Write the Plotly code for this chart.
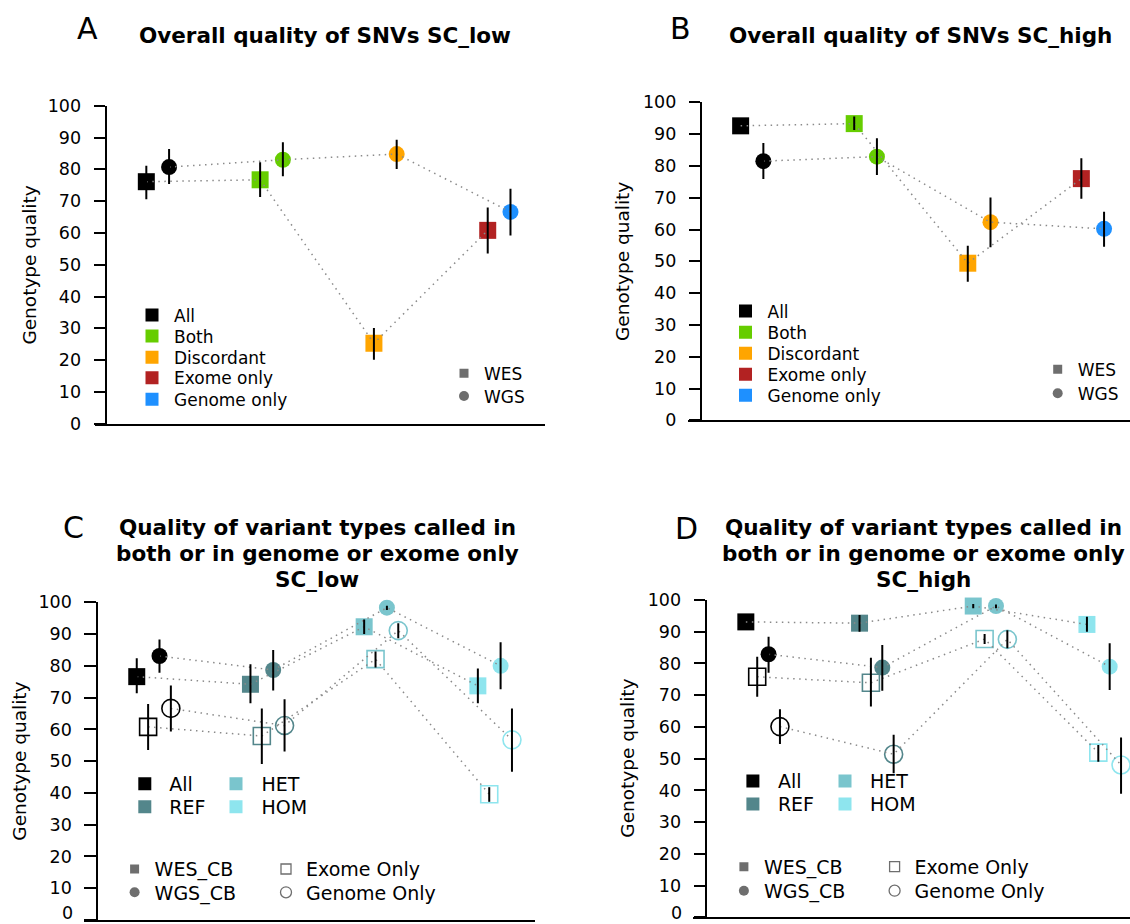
import plotly.graph_objects as go

W, H = 1130, 924
FONT = "DejaVu Sans, Liberation Sans, Arial, sans-serif"

# ---------------- Data: panels A and B ----------------
ab_categories = ["All", "Both", "Discordant", "Exome only", "Genome only"]
ab_colors = ["#000000", "#66CD00", "#FFA500", "#B22222", "#1E90FF"]
wes_cat_index = [0, 1, 2, 3]   # All, Both, Discordant, Exome only
wgs_cat_index = [0, 1, 2, 4]   # All, Both, Discordant, Genome only

a_wes = [76.1, 76.7, 25.3, 60.8]
a_wes_lo = [70.6, 71.3, 20.1, 53.5]
a_wes_hi = [81.1, 82.2, 30.1, 68.0]
a_wgs = [80.7, 83.0, 84.8, 66.6]
a_wgs_lo = [75.4, 77.8, 80.1, 59.2]
a_wgs_hi = [86.4, 88.5, 89.3, 73.9]

b_wes = [92.6, 93.3, 49.4, 76.0]
b_wes_lo = [92.6, 91.3, 43.6, 69.7]
b_wes_hi = [92.6, 95.5, 54.9, 82.4]
b_wgs = [81.5, 82.9, 62.3, 60.2]
b_wgs_lo = [75.9, 77.1, 54.4, 54.6]
b_wgs_hi = [87.2, 88.7, 70.1, 65.6]

# ---------------- Data: panels C and D ----------------
cd_categories = ["All", "REF", "HET", "HOM"]
cd_colors = ["#000000", "#53868B", "#7AC5CD", "#8EE5EE"]

c_wes = [76.6, 74.2, 92.3, 73.7]
c_wes_lo = [71.4, 68.2, 90.0, 68.2]
c_wes_hi = [82.4, 80.5, 94.6, 79.2]
c_wgs = [83.1, 78.7, 98.3, 80.0]
c_wgs_lo = [77.8, 72.2, 97.6, 72.6]
c_wgs_hi = [88.3, 85.0, 98.9, 87.4]
c_exome = [60.8, 57.9, 82.1, 39.6]
c_exome_lo = [53.5, 49.1, 79.5, 37.2]
c_exome_hi = [68.0, 66.6, 84.5, 41.8]
c_genome = [66.6, 61.2, 91.1, 56.7]
c_genome_lo = [59.3, 53.0, 88.7, 46.7]
c_genome_hi = [73.8, 69.5, 93.4, 66.6]

d_wes = [93.1, 92.7, 98.1, 92.3]
d_wes_lo = [93.1, 90.0, 97.4, 90.0]
d_wes_hi = [93.1, 95.3, 98.7, 94.7]
d_wgs = [82.9, 78.7, 98.1, 79.0]
d_wgs_lo = [77.1, 71.4, 97.4, 71.6]
d_wgs_hi = [88.4, 85.8, 98.6, 86.4]
d_exome = [75.8, 73.9, 87.7, 51.9]
d_exome_lo = [69.5, 66.4, 86.1, 49.0]
d_exome_hi = [82.1, 81.8, 89.3, 54.3]
d_genome = [60.1, 51.4, 87.6, 48.0]
d_genome_lo = [54.6, 45.4, 84.8, 38.9]
d_genome_hi = [65.6, 57.5, 90.5, 56.7]

y_ticks = [0, 10, 20, 30, 40, 50, 60, 70, 80, 90, 100]

# ---------------- Styling constants ----------------
DOT_COLOR = "#8a8a8a"
PLAT_GRAY = "#6e6e6e"
OFF_AB = {"wes": -0.1, "wgs": 0.1}
OFF_CD = {"wes": -0.15, "exome": -0.05, "wgs": 0.05, "genome": 0.15}
TICK_FS = 17.5
TICKLEN = 11.5
TICK_STANDOFF = 9

fig = go.Figure()


def fx(p):
    return p / W


def fy(p):
    return 1 - p / H


def positions(n, off):
    return [i + 1 + off for i in range(n)]


def draw_panel(xa, ya, series):
    for s in series:
        fig.add_trace(go.Scatter(
            x=s["x"], y=s["y"], mode="markers", xaxis=xa, yaxis=ya,
            marker=dict(symbol=s["symbol"], size=s["size"], color=s["colors"],
                        line=dict(width=s["lw"], color=s["colors"])),
            cliponaxis=False, showlegend=False, hoverinfo="skip"))
    for s in series:
        fig.add_trace(go.Scatter(
            x=s["x"], y=s["y"], mode="lines", xaxis=xa, yaxis=ya,
            line=dict(color=DOT_COLOR, width=1.5, dash="1.5px,4.5px"),
            cliponaxis=False, showlegend=False, hoverinfo="skip"))
    for s in series:
        up = [h - v for h, v in zip(s["hi"], s["y"])]
        dn = [v - l for v, l in zip(s["y"], s["lo"])]
        fig.add_trace(go.Scatter(
            x=s["x"], y=s["y"], mode="markers", xaxis=xa, yaxis=ya,
            marker=dict(size=1, opacity=0),
            error_y=dict(type="data", symmetric=False, array=up, arrayminus=dn,
                         color="black", thickness=2, width=0),
            cliponaxis=False, showlegend=False, hoverinfo="skip"))


def ab_series(wes, wes_lo, wes_hi, wgs, wgs_lo, wgs_hi):
    return [
        dict(x=positions(4, OFF_AB["wes"]), y=wes, lo=wes_lo, hi=wes_hi,
             colors=[ab_colors[i] for i in wes_cat_index], symbol="square", size=17, lw=0),
        dict(x=positions(4, OFF_AB["wgs"]), y=wgs, lo=wgs_lo, hi=wgs_hi,
             colors=[ab_colors[i] for i in wgs_cat_index], symbol="circle", size=16, lw=0),
    ]


def cd_series(wes, wes_lo, wes_hi, exo, exo_lo, exo_hi, wgs, wgs_lo, wgs_hi, gen, gen_lo, gen_hi):
    return [
        dict(x=positions(4, OFF_CD["wes"]), y=wes, lo=wes_lo, hi=wes_hi,
             colors=cd_colors, symbol="square", size=17, lw=0),
        dict(x=positions(4, OFF_CD["exome"]), y=exo, lo=exo_lo, hi=exo_hi,
             colors=cd_colors, symbol="square-open", size=17, lw=1.6),
        dict(x=positions(4, OFF_CD["wgs"]), y=wgs, lo=wgs_lo, hi=wgs_hi,
             colors=cd_colors, symbol="circle", size=16, lw=0),
        dict(x=positions(4, OFF_CD["genome"]), y=gen, lo=gen_lo, hi=gen_hi,
             colors=cd_colors, symbol="circle-open", size=18, lw=1.6),
    ]


draw_panel("x", "y", ab_series(a_wes, a_wes_lo, a_wes_hi, a_wgs, a_wgs_lo, a_wgs_hi))
draw_panel("x2", "y2", ab_series(b_wes, b_wes_lo, b_wes_hi, b_wgs, b_wgs_lo, b_wgs_hi))
draw_panel("x3", "y3", cd_series(c_wes, c_wes_lo, c_wes_hi, c_exome, c_exome_lo, c_exome_hi,
                                 c_wgs, c_wgs_lo, c_wgs_hi, c_genome, c_genome_lo, c_genome_hi))
draw_panel("x4", "y4", cd_series(d_wes, d_wes_lo, d_wes_hi, d_exome, d_exome_lo, d_exome_hi,
                                 d_wgs, d_wgs_lo, d_wgs_hi, d_genome, d_genome_lo, d_genome_hi))

# ---------------- Axes ----------------
panels = {
    # name: (x domain px, y-axis px, y100 px, y0 px, x range, bottom label inside page)
    "1": ((94.6, 544.6), 106.1, 105.7, 423.7, (0.4455, 4.3998), True),
    "2": ((687.9, 1130.0), 701.4, 102.3, 420.3, (0.4356, 4.3284), True),
    "3": ((83.9, 534.6), 96.8, 602.3, 920.0, (0.3852, 4.3490), False),
    "4": ((693.2, 1130.0), 706.1, 600.0, 917.3, (0.3870, 4.2287), False),
}
layout_axes = {}
annotations = []
for k, (xd, ypos, y100, y0, xr, zero_fits) in panels.items():
    sfx = "" if k == "1" else k
    labels = [str(t) for t in y_ticks]
    if not zero_fits:
        labels[0] = ""
        # the "0" label would run past the page bottom: draw it just inside the page
        annotations.append(dict(
            text=str(y_ticks[0]), x=fx(ypos - TICKLEN - TICK_STANDOFF - 2.5), y=0,
            xref="paper", yref="paper", xanchor="right", yanchor="bottom",
            showarrow=False, borderpad=0,
            font=dict(family=FONT, size=TICK_FS, color="black")))
    layout_axes["xaxis" + sfx] = dict(
        domain=[fx(xd[0]), min(1.0, fx(xd[1]))], range=list(xr), anchor="y" + sfx,
        showline=True, linecolor="black", linewidth=1.5, ticks="", showticklabels=False,
        showgrid=False, zeroline=False, fixedrange=True)
    layout_axes["yaxis" + sfx] = dict(
        domain=[fy(y0), fy(y100)], range=[0, 100], anchor="free", position=fx(ypos),
        showline=True, linecolor="black", linewidth=2, ticks="outside", ticklen=TICKLEN,
        tickwidth=2, tickcolor="black", tickvals=y_ticks, ticktext=labels,
        tickfont=dict(family=FONT, size=TICK_FS, color="black"), ticklabelstandoff=TICK_STANDOFF,
        showgrid=False, zeroline=False, fixedrange=True)

# ---------------- Legends (one entry per legend for exact placement) ----------------
legends = {}
leg_count = [0]


def legend_entry(name, left_px, center_y_px, itemwidth, symbol, color, size, fs, lw=0):
    leg_count[0] += 1
    lid = "legend" if leg_count[0] == 1 else "legend%d" % leg_count[0]
    item_h = 1.3 * fs + 3
    fig.add_trace(go.Scatter(
        x=[None], y=[None], mode="markers", name=name, legend=lid,
        marker=dict(symbol=symbol, color=color, size=size, line=dict(width=lw, color=color)),
        showlegend=True, hoverinfo="skip"))
    legends[lid] = dict(
        x=fx(left_px), y=fy(center_y_px - item_h / 2 - 5), xanchor="left", yanchor="top",
        bgcolor="rgba(0,0,0,0)", borderwidth=0, itemwidth=itemwidth, itemsizing="trace",
        tracegroupgap=0, itemclick=False, itemdoubleclick=False,
        font=dict(family=FONT, size=fs, color="black"))


FS_AB, FS_CD = 17, 19
# Panel A
for name, col, cy in zip(ab_categories, ab_colors, [315, 336, 357.3, 377.7, 399.3]):
    legend_entry(name, 130, cy, 34, "square", col, 13, FS_AB)
legend_entry("WES", 444, 373.3, 30, "square", PLAT_GRAY, 9, FS_AB)
legend_entry("WGS", 444, 396, 30, "circle", PLAT_GRAY, 10, FS_AB)
# Panel B
for name, col, cy in zip(ab_categories, ab_colors, [311, 332.3, 353.3, 374.3, 395.3]):
    legend_entry(name, 723.5, cy, 34, "square", col, 13, FS_AB)
legend_entry("WES", 1037.7, 369.3, 30, "square", PLAT_GRAY, 9, FS_AB)
legend_entry("WGS", 1037.7, 393.3, 30, "circle", PLAT_GRAY, 10, FS_AB)
# Panel C
c_leg_pos = [(120.3, 783.7, 39), (120.3, 806.7, 39), (210.5, 783.7, 41), (210.5, 806.7, 41)]
for name, col, (lx, cy, iw) in zip(cd_categories, cd_colors, c_leg_pos):
    legend_entry(name, lx, cy, iw, "square", col, 13, FS_CD)
legend_entry("WES_CB", 114.6, 869, 30, "square", PLAT_GRAY, 9, FS_CD)
legend_entry("WGS_CB", 114.6, 892.3, 30, "circle", PLAT_GRAY, 10, FS_CD)
legend_entry("Exome Only", 266, 869, 30, "square-open", PLAT_GRAY, 10, FS_CD, 1.3)
legend_entry("Genome Only", 266, 892.3, 30, "circle-open", PLAT_GRAY, 11, FS_CD, 1.3)
# Panel D
d_leg_pos = [(727.9, 781, 40), (727.9, 804, 40), (820, 781, 40), (820, 804, 40)]
for name, col, (lx, cy, iw) in zip(cd_categories, cd_colors, d_leg_pos):
    legend_entry(name, lx, cy, iw, "square", col, 13, FS_CD)
legend_entry("WES_CB", 723.9, 866.7, 30, "square", PLAT_GRAY, 9, FS_CD)
legend_entry("WGS_CB", 723.9, 890.7, 30, "circle", PLAT_GRAY, 10, FS_CD)
legend_entry("Exome Only", 874.6, 866.7, 30, "square-open", PLAT_GRAY, 10, FS_CD, 1.3)
legend_entry("Genome Only", 874.6, 890.7, 30, "circle-open", PLAT_GRAY, 11, FS_CD, 1.3)

# ---------------- Text annotations ----------------


def text(t, x_px, y_px, size, bold=False, angle=0):
    annotations.append(dict(
        text=("<b>%s</b>" % t) if bold else t, x=fx(x_px), y=fy(y_px), xref="paper", yref="paper",
        xanchor="center", yanchor="middle", showarrow=False, textangle=angle,
        font=dict(family=FONT, size=size, color="black")))


TITLE_FS = 21.5
text("A", 87.5, 28.8, 30)
text("Overall quality of SNVs SC_low", 325, 35.5, TITLE_FS, bold=True)
text("B", 680, 28.8, 30)
text("Overall quality of SNVs SC_high", 920.8, 35.5, TITLE_FS, bold=True)
text("C", 73.3, 527, 30)
text("D", 686, 528, 30)
for cx, suffix in [(317, "SC_low"), (923, "SC_high")]:
    text("Quality of variant types called in", cx, 527.5, TITLE_FS, bold=True)
    text("both or in genome or exome only", cx, 553.5, TITLE_FS, bold=True)
    text(suffix, cx, 579.5, TITLE_FS, bold=True)

for x_px, y_px in [(28.6, 265), (622.7, 261.3), (18.7, 761), (628, 758.7)]:
    text("Genotype quality", x_px, y_px, 18.5, angle=-90)

fig.update_layout(
    width=W, height=H, margin=dict(l=0, r=0, t=0, b=0, pad=0, autoexpand=False),
    plot_bgcolor="white", paper_bgcolor="white", showlegend=True, hovermode=False,
    annotations=annotations, font=dict(family=FONT, color="black"),
    **layout_axes, **legends)

fig.write_html("out.html")
